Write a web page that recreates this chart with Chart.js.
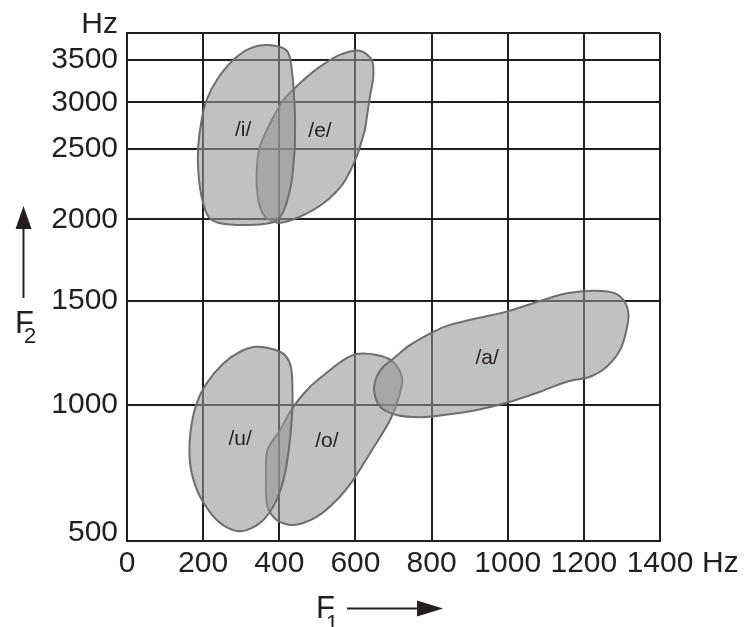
<!DOCTYPE html>
<html><head><meta charset="utf-8">
<script src="https://cdn.jsdelivr.net/npm/chart.js"></script>
<style>html,body{margin:0;padding:0;background:#fff}canvas{display:block}</style>
</head><body>
<canvas id="c" width="745" height="627"></canvas>
<script>
// ---- data (Hz) ----
const VOWELS = ['/i/', '/e/', '/a/', '/u/', '/o/'];

const I_F1 = [441, 433, 419, 402, 376, 314, 244, 214, 196, 187, 187, 196, 209, 236, 279, 323, 371, 420, 433, 441];
const I_F2 = [2525, 2280, 2116, 2018, 1977, 1965, 1976, 2018, 2161, 2351, 2525, 2811, 3027, 3262, 3496, 3628, 3665, 3600, 3379, 2885];

const E_F1 = [625, 603, 568, 516, 454, 402, 367, 349, 341, 342, 349, 376, 411, 454, 507, 559, 612, 643, 647, 638];
const E_F2 = [2703, 2445, 2256, 2114, 2018, 1979, 2007, 2090, 2232, 2398, 2525, 2775, 3027, 3223, 3418, 3555, 3601, 3496, 3300, 3066];

const A_F1 = [919, 997, 1093, 1155, 1225, 1277, 1304, 1317, 1312, 1295, 1260, 1216, 1155, 1085, 1006, 919, 831, 770, 708, 665, 649, 656, 673, 695, 743, 805, 848];
const A_F2 = [1417, 1449, 1506, 1547, 1563, 1551, 1506, 1441, 1361, 1264, 1184, 1136, 1112, 1064, 1016, 982, 963, 955, 963, 994, 1072, 1136, 1184, 1216, 1288, 1352, 1385];

const U_F1 = [435, 428, 415, 393, 358, 314, 279, 236, 192, 170, 164, 170, 183, 209, 253, 297, 341, 402, 424, 433];
const U_F2 = [994, 871, 749, 651, 577, 540, 540, 577, 663, 749, 835, 933, 1008, 1104, 1200, 1256, 1280, 1256, 1216, 1152];

const O_F1 = [638, 594, 551, 498, 437, 393, 369, 365, 369, 402, 437, 481, 533, 568, 603, 656, 699, 722, 717, 691];
const O_F2 = [822, 724, 651, 589, 559, 577, 626, 724, 835, 908, 994, 1088, 1168, 1216, 1245, 1240, 1208, 1136, 1056, 945];

const LABEL_F1 = [305, 507, 946, 297, 525];
const LABEL_F2 = [2703, 2693, 1226, 875, 868];

const F1_TICKS = [0, 200, 400, 600, 800, 1000, 1200, 1400];
const F2_TICKS = [500, 1000, 1500, 2000, 2500, 3000, 3500];
const AXIS_UNIT = 'Hz';

// non-linear F2 axis: Hz -> relative axis units
const F2_AXIS_HZ   = [500, 1000, 1500, 2000, 2500, 3000, 3500, 3800];
const F2_AXIS_WARP = [0, 136, 240, 321.7, 392, 438.7, 481.3, 508];
const F2_MAX = F2_AXIS_HZ[F2_AXIS_HZ.length - 1];

// ---- custom warped scale ----
function interp(v, xs, ys) {
  let i = 0;
  while (i < xs.length - 2 && v > xs[i + 1]) i++;
  return ys[i] + (v - xs[i]) * (ys[i + 1] - ys[i]) / (xs[i + 1] - xs[i]);
}
class WarpScale extends Chart.LinearScale {
  getPixelForValue(value) {
    if (value === null || value === undefined || isNaN(value)) return NaN;
    const a = interp(this.min, F2_AXIS_HZ, F2_AXIS_WARP);
    const b = interp(this.max, F2_AXIS_HZ, F2_AXIS_WARP);
    return this.getPixelForDecimal((interp(value, F2_AXIS_HZ, F2_AXIS_WARP) - a) / (b - a));
  }
  getValueForPixel(pixel) {
    const a = interp(this.min, F2_AXIS_HZ, F2_AXIS_WARP);
    const b = interp(this.max, F2_AXIS_HZ, F2_AXIS_WARP);
    return interp(a + this.getDecimalForPixel(pixel) * (b - a), F2_AXIS_WARP, F2_AXIS_HZ);
  }
}
WarpScale.id = 'warp';
Chart.register(WarpScale);

const INK = '#231f20';
Chart.defaults.font.family = '"Liberation Sans", Arial, Helvetica, sans-serif';
Chart.defaults.color = INK;

const SHAPES = [[I_F1, I_F2], [E_F1, E_F2], [A_F1, A_F2], [U_F1, U_F2], [O_F1, O_F2]];
function closed(f1, f2) {
  const pts = f1.map((x, i) => ({x: x, y: f2[i]}));
  pts.push({x: f1[0], y: f2[0]});
  return pts;
}

const extras = {
  id: 'extras',
  afterDatasetsDraw(chart) {
    const {ctx, scales: {x, y}} = chart;
    ctx.save();
    ctx.fillStyle = INK;
    ctx.font = '21px "Liberation Sans", Arial, sans-serif';
    ctx.textAlign = 'center';
    ctx.textBaseline = 'middle';
    VOWELS.forEach((v, i) => ctx.fillText(v, x.getPixelForValue(LABEL_F1[i]), y.getPixelForValue(LABEL_F2[i])));
    ctx.restore();
  },
  afterDraw(chart) {
    const {ctx, chartArea} = chart;
    ctx.save();
    ctx.fillStyle = INK; ctx.strokeStyle = INK;
    // x unit
    ctx.font = '30px "Liberation Sans", Arial, sans-serif';
    ctx.textAlign = 'left'; ctx.textBaseline = 'middle';
    ctx.fillText(AXIS_UNIT, chartArea.right + 42, chartArea.bottom + 23);
    // F1 title with arrow
    ctx.textBaseline = 'alphabetic';
    ctx.font = '31px "Liberation Sans", Arial, sans-serif';
    ctx.fillText('F', 316, 618);
    ctx.font = '22px "Liberation Sans", Arial, sans-serif';
    ctx.fillText('1', 326, 630);
    ctx.lineWidth = 2;
    ctx.beginPath(); ctx.moveTo(347, 608.5); ctx.lineTo(420, 608.5); ctx.stroke();
    ctx.beginPath(); ctx.moveTo(417, 600.5); ctx.lineTo(443, 608.5); ctx.lineTo(417, 616.5); ctx.closePath(); ctx.fill();
    // F2 title with arrow
    ctx.beginPath(); ctx.moveTo(23.5, 226); ctx.lineTo(23.5, 298); ctx.stroke();
    ctx.beginPath(); ctx.moveTo(23.5, 206); ctx.lineTo(31.5, 229); ctx.lineTo(15.5, 229); ctx.closePath(); ctx.fill();
    ctx.font = '31px "Liberation Sans", Arial, sans-serif';
    ctx.fillText('F', 15, 333);
    ctx.font = '22px "Liberation Sans", Arial, sans-serif';
    ctx.fillText('2', 24, 343);
    ctx.restore();
  }
};

new Chart(document.getElementById('c'), {
  type: 'line',
  data: {
    datasets: SHAPES.map((s, i) => ({
      label: VOWELS[i],
      data: closed(s[0], s[1]),
      fill: 'shape',
      backgroundColor: 'rgba(148,149,152,0.59)',
      borderColor: '#6e6e71',
      borderWidth: 2,
      tension: 0.3,
      pointRadius: 0
    }))
  },
  options: {
    responsive: false,
    animation: false,
    devicePixelRatio: 1,
    layout: {padding: {left: 0, top: 33, right: 85, bottom: 0}},
    plugins: {legend: {display: false}, tooltip: {enabled: false}},
    scales: {
      x: {
        type: 'linear', min: 0, max: 1400,
        afterBuildTicks: s => { s.ticks = F1_TICKS.map(v => ({value: v})); },
        afterFit: s => { s.height = 86; },
        ticks: {color: INK, font: {size: 30}, padding: 5, maxRotation: 0, autoSkip: false, callback: v => String(v)},
        grid: {color: INK, lineWidth: 2, drawTicks: false},
        border: {color: INK, width: 2}
      },
      y: {
        type: 'warp', min: 500, max: F2_MAX,
        afterBuildTicks: s => { s.ticks = F2_TICKS.concat([F2_MAX]).map(v => ({value: v})); },
        afterFit: s => { s.width = 127; },
        ticks: {
          color: INK, padding: 9, autoSkip: false,
          font: {size: 30, lineHeight: '16px'},
          callback: v => v === F2_TICKS[0] ? [String(v), ''] : (v === F2_MAX ? [AXIS_UNIT, ''] : String(v))
        },
        grid: {color: INK, lineWidth: 2, drawTicks: false},
        border: {color: INK, width: 2}
      }
    }
  },
  plugins: [extras]
});
</script>
</body></html>
